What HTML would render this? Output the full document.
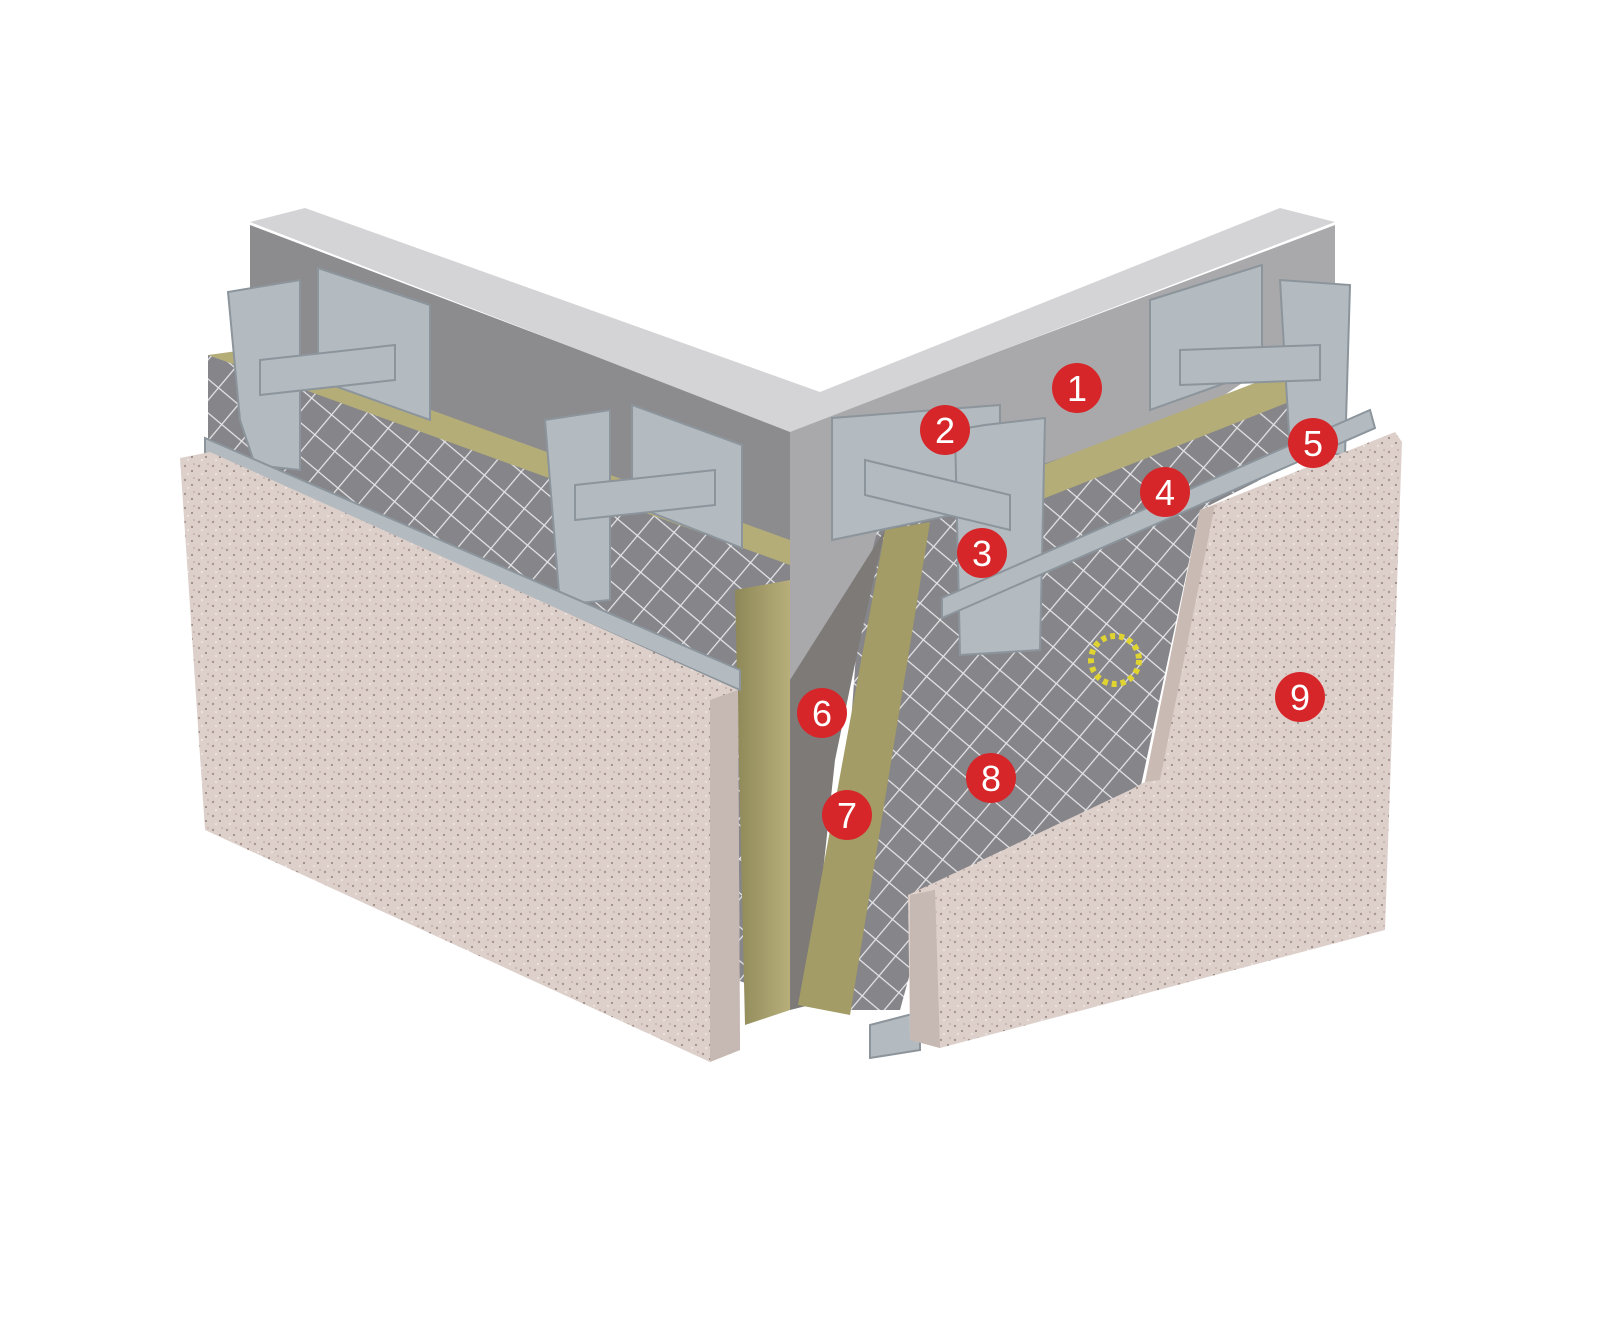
<!DOCTYPE html>
<html><head><meta charset="utf-8"><style>
html,body{margin:0;padding:0;background:#fff}
svg{display:block}
.b text{font-family:"Liberation Sans",sans-serif;font-size:36px;fill:#fff;text-anchor:middle}
</style></head><body>
<svg width="1600" height="1319" viewBox="0 0 1600 1319" xmlns="http://www.w3.org/2000/svg">
<defs>
<pattern id="mesh" width="26" height="26" patternUnits="userSpaceOnUse" patternTransform="rotate(40)">
<rect width="26" height="26" fill="#85858a"/>
<path d="M0 0H26M0 0V26" stroke="#e6e6e8" stroke-width="2.5"/>
</pattern>
<pattern id="speck" width="14" height="14" patternUnits="userSpaceOnUse">
<rect width="14" height="14" fill="#ddd0cb"/>
<circle cx="3" cy="4" r="1.2" fill="#a8958f"/>
<circle cx="10" cy="9" r="1" fill="#8f7f7a"/>
<circle cx="6" cy="12" r="0.9" fill="#f6efea"/>
<circle cx="12" cy="2" r="0.9" fill="#c0a7a0"/>
</pattern>
<linearGradient id="wool" x1="0" y1="0" x2="1" y2="0"><stop offset="0" stop-color="#8e8858"/><stop offset="1" stop-color="#b7ae7a"/></linearGradient>
</defs>
<!-- concrete -->
<polygon points="250,225 790,430 790,690 250,450" fill="#8c8c8e"/>
<polygon points="790,430 1335,225 1335,320 790,690" fill="#a9a9ab"/>
<polygon points="250,222 305,208 820,392 1280,208 1335,222 790,432" fill="#d4d4d6"/>
<!-- left insulation & mesh -->
<polygon points="208,355 790,560 790,1000 208,780" fill="url(#mesh)"/>
<polygon points="208,355 260,348 790,540 790,565" fill="#b4ad78"/>
<polygon points="735,590 790,580 790,1010 745,1025" fill="url(#wool)"/>
<!-- right mesh and insulation -->
<polygon points="880,520 1230,400 1340,360 1340,440 1200,510 1140,790 930,900 900,1010 830,1010 860,600" fill="url(#mesh)"/>
<polygon points="1030,470 1340,350 1345,380 1040,500" fill="#b4ad78"/>
<!-- rough concrete edge -->
<polygon points="790,680 885,530 860,640 835,760 820,900 810,1005 790,1010" fill="#7d7a78"/>
<!-- diagonal wool strip -->
<polygon points="885,530 930,522 850,1015 798,1005" fill="#a39c66"/>
<!-- dowel -->
<circle cx="1115" cy="660" r="24" fill="none" stroke="#e0d430" stroke-width="6" stroke-dasharray="5 4"/>
<!-- brackets -->
<g fill="#b3bac0" stroke="#8c959c" stroke-width="2">
<polygon points="318,268 430,305 430,420 318,380"/>
<polygon points="632,405 742,445 742,548 632,505"/>
<polygon points="832,418 1000,405 1000,505 832,540"/>
<polygon points="1150,300 1262,265 1262,370 1150,410"/>
<polygon points="228,292 300,280 300,470 255,465 240,420"/>
<polygon points="545,420 610,410 610,600 560,605"/>
<polygon points="985,425 1045,418 1040,650 960,655 955,430"/>
<polygon points="1280,280 1350,285 1345,455 1290,450"/>
<polygon points="260,360 395,345 395,380 260,395"/>
<polygon points="575,485 715,470 715,505 575,520"/>
<polygon points="865,460 1010,495 1010,530 865,495"/>
<polygon points="1180,350 1320,345 1320,380 1180,385"/>
<polygon points="205,438 740,670 740,690 205,455"/>
<polygon points="942,598 1370,410 1375,428 942,618"/>
<polygon points="870,1025 920,1012 920,1050 870,1058"/>
</g>
<!-- left panel -->
<polygon points="180,458 210,452 738,690 740,1050 710,1062 205,830" fill="url(#speck)"/>
<polygon points="710,700 738,690 740,1050 710,1062" fill="#c6b8b2"/>
<!-- right panel -->
<polygon points="1200,510 1395,432 1402,442 1385,930 940,1048 910,1040 908,895 1130,790 1145,782" fill="url(#speck)"/>
<polygon points="910,895 935,890 940,1048 910,1040" fill="#c6b8b2"/>
<polygon points="1200,510 1215,505 1160,780 1145,782" fill="#c9bab3"/>
<!-- badges -->
<g class="b">
<circle cx="1077" cy="388" r="25" fill="#d7262a"/><text x="1077" y="401">1</text>
<circle cx="945" cy="430" r="25" fill="#d7262a"/><text x="945" y="443">2</text>
<circle cx="982" cy="553" r="25" fill="#d7262a"/><text x="982" y="566">3</text>
<circle cx="1165" cy="492" r="25" fill="#d7262a"/><text x="1165" y="505">4</text>
<circle cx="1313" cy="443" r="25" fill="#d7262a"/><text x="1313" y="456">5</text>
<circle cx="822" cy="713" r="25" fill="#d7262a"/><text x="822" y="726">6</text>
<circle cx="847" cy="815" r="25" fill="#d7262a"/><text x="847" y="828">7</text>
<circle cx="991" cy="778" r="25" fill="#d7262a"/><text x="991" y="791">8</text>
<circle cx="1300" cy="697" r="25" fill="#d7262a"/><text x="1300" y="710">9</text>
</g>
</svg>
</body></html>
